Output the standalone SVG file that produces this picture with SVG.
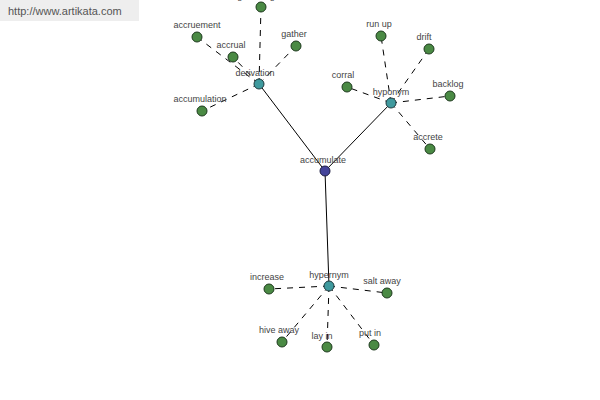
<svg xmlns="http://www.w3.org/2000/svg" width="600" height="400" viewBox="0 0 600 400">
<style>
text{font-family:"Liberation Sans",Arial,sans-serif;font-size:9px;fill:#444;text-anchor:middle}
.leaf{fill:#4a8a44;stroke:#1e3a1e;stroke-width:1}
.hub{fill:#3f9a9e;stroke:#1e3a3e;stroke-width:1}
.root{fill:#44449a;stroke:#1e1e44;stroke-width:1}
.solid{stroke:#000;stroke-width:1;fill:none}
.dash{stroke:#000;stroke-width:1;fill:none;stroke-dasharray:6 6}
</style>
<rect width="600" height="400" fill="#fff"/>
<g id="url">
<rect x="0" y="0" width="139" height="21" fill="#eeeeee"/>
<text x="8" y="15" style="text-anchor:start;font-size:11px;fill:#555">http://www.artikata.com</text>
</g>
<g id="connectors">
<line class="solid" x1="325" y1="171" x2="259" y2="84"/>
<line class="solid" x1="325" y1="171" x2="391" y2="103"/>
<line class="solid" x1="325" y1="171" x2="329" y2="286"/>
<line class="dash" x1="259" y1="84" x2="261" y2="7"/>
<line class="dash" x1="259" y1="84" x2="197" y2="37"/>
<line class="dash" x1="259" y1="84" x2="233" y2="57"/>
<line class="dash" x1="259" y1="84" x2="296" y2="46"/>
<line class="dash" x1="259" y1="84" x2="202" y2="111"/>
<line class="dash" x1="391" y1="103" x2="381" y2="36"/>
<line class="dash" x1="391" y1="103" x2="429" y2="49"/>
<line class="dash" x1="391" y1="103" x2="347" y2="87"/>
<line class="dash" x1="391" y1="103" x2="450" y2="96"/>
<line class="dash" x1="391" y1="103" x2="430" y2="149"/>
<line class="dash" x1="329" y1="286" x2="269" y2="289"/>
<line class="dash" x1="329" y1="286" x2="387" y2="293"/>
<line class="dash" x1="329" y1="286" x2="282" y2="342"/>
<line class="dash" x1="329" y1="286" x2="327" y2="347"/>
<line class="dash" x1="329" y1="286" x2="374" y2="345"/>
</g>
<g id="n-gathering"><circle class="leaf" cx="261" cy="7" r="5"/><text x="256" y="-1">gathering</text></g>
<g id="n-accruement"><circle class="leaf" cx="197" cy="37" r="5"/><text x="197" y="28">accruement</text></g>
<g id="n-accrual"><circle class="leaf" cx="233" cy="57" r="5"/><text x="231" y="48">accrual</text></g>
<g id="n-gather"><circle class="leaf" cx="296" cy="46" r="5"/><text x="294" y="37">gather</text></g>
<g id="n-accumulation"><circle class="leaf" cx="202" cy="111" r="5"/><text x="200" y="102">accumulation</text></g>
<g id="n-derivation"><circle class="hub" cx="259" cy="84" r="5"/><text x="255" y="76">derivation</text></g>
<g id="n-runup"><circle class="leaf" cx="381" cy="36" r="5"/><text x="379" y="27">run up</text></g>
<g id="n-drift"><circle class="leaf" cx="429" cy="49" r="5"/><text x="424" y="40">drift</text></g>
<g id="n-corral"><circle class="leaf" cx="347" cy="87" r="5"/><text x="343" y="78">corral</text></g>
<g id="n-backlog"><circle class="leaf" cx="450" cy="96" r="5"/><text x="448" y="87">backlog</text></g>
<g id="n-accrete"><circle class="leaf" cx="430" cy="149" r="5"/><text x="428" y="140">accrete</text></g>
<g id="n-hyponym"><circle class="hub" cx="391" cy="103" r="5"/><text x="391" y="95">hyponym</text></g>
<g id="n-increase"><circle class="leaf" cx="269" cy="289" r="5"/><text x="267" y="280">increase</text></g>
<g id="n-saltaway"><circle class="leaf" cx="387" cy="293" r="5"/><text x="382" y="284">salt away</text></g>
<g id="n-hiveaway"><circle class="leaf" cx="282" cy="342" r="5"/><text x="279" y="333">hive away</text></g>
<g id="n-layin"><circle class="leaf" cx="327" cy="347" r="5"/><text x="322" y="339">lay in</text></g>
<g id="n-putin"><circle class="leaf" cx="374" cy="345" r="5"/><text x="370" y="336">put in</text></g>
<g id="n-hypernym"><circle class="hub" cx="329" cy="286" r="5"/><text x="329" y="278">hypernym</text></g>
<g id="n-accumulate"><circle class="root" cx="325" cy="171" r="5"/><text x="323" y="163">accumulate</text></g>
</svg>
